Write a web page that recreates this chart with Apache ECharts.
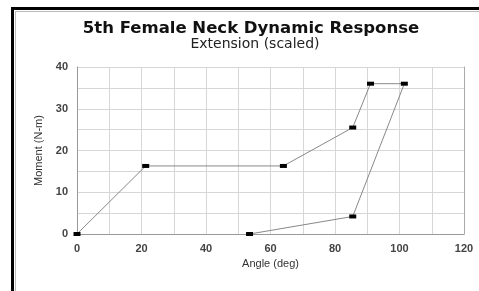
<!DOCTYPE html>
<html>
<head>
<meta charset="utf-8">
<script src="https://cdn.jsdelivr.net/npm/echarts@6/dist/echarts.min.js"></script>
<style>
html, body { margin: 0; padding: 0; background: #fff; }
#p1 { width: 479px; height: 291px; }
</style>
</head>
<body>
<div id="p1"></div>
<script>
// response corridor points, in drawing order
var angle = [0, 21.3, 64, 85.5, 91, 101.5, 85.5, 53.5];
var moment = [0, 16.3, 16.3, 25.5, 36, 36, 4.2, 0];

var pts = [];
for (var i = 0; i < angle.length; i++) {
    pts.push([angle[i], moment[i]]);
}

var labelFont = {
    fontFamily: 'Liberation Sans',
    fontSize: 11,
    fontWeight: 'bold',
    color: '#444'
};

var myChart1 = echarts.init(document.getElementById("p1"));
var option1 = {
    backgroundColor: '#fff',
    animation: false,
    title: [{
        text: '5th Female Neck Dynamic Response',
        left: 246,
        top: 15,
        textAlign: 'center',
        textStyle: {
            fontFamily: 'DejaVu Sans',
            fontSize: 16.5,
            fontWeight: 'bold',
            color: '#111'
        }
    }, {
        text: 'Extension (scaled)',
        left: 250,
        top: 32,
        textAlign: 'center',
        textStyle: {
            fontFamily: 'DejaVu Sans',
            fontSize: 14,
            fontWeight: 'normal',
            color: '#222'
        }
    }],
    grid: {
        left: 77,
        right: 15,
        top: 67,
        bottom: 57
    },
    xAxis: {
        type: 'value',
        min: 0,
        max: 120,
        interval: 20,
        name: 'Angle (deg)',
        nameLocation: 'middle',
        nameGap: 20,
        nameTextStyle: {
            fontFamily: 'Liberation Sans',
            fontSize: 11,
            color: '#333'
        },
        axisLine: { lineStyle: { color: '#999', width: 1 } },
        axisTick: { show: false },
        axisLabel: Object.assign({ margin: 9 }, labelFont),
        splitLine: { show: true, lineStyle: { color: '#d6d6d6', width: 1 } },
        minorTick: { show: false, splitNumber: 2 },
        minorSplitLine: { show: true, lineStyle: { color: '#d6d6d6', width: 1 } }
    },
    yAxis: [{
        type: 'value',
        min: 0,
        max: 40,
        interval: 10,
        name: 'Moment (N-m)',
        nameLocation: 'middle',
        nameGap: 24,
        nameTextStyle: {
            fontFamily: 'Liberation Sans',
            fontSize: 11,
            color: '#333'
        },
        axisLine: { show: true, lineStyle: { color: '#999', width: 1 } },
        axisTick: { show: false },
        axisLabel: Object.assign({ margin: 9 }, labelFont),
        splitLine: { show: true, lineStyle: { color: '#d6d6d6', width: 1 } },
        minorTick: { show: false, splitNumber: 2 },
        minorSplitLine: { show: true, lineStyle: { color: '#d6d6d6', width: 1 } }
    }, {
        // right frame edge of the plot
        type: 'value',
        position: 'right',
        min: 0,
        max: 40,
        interval: 10,
        axisLine: { show: true, lineStyle: { color: '#aaa', width: 1 } },
        axisTick: { show: false },
        axisLabel: { show: false },
        splitLine: { show: false }
    }],
    series: [{
        type: 'line',
        data: pts,
        symbol: 'rect',
        symbolSize: [7, 4],
        itemStyle: { color: '#000' },
        lineStyle: { color: '#888', width: 1 }
    }],
    graphic: [
        { type: 'rect', shape: { x: 11, y: 7, width: 3, height: 284 }, style: { fill: '#000' } },
        { type: 'rect', shape: { x: 11, y: 7, width: 468, height: 3 }, style: { fill: '#000' } },
        { type: 'line', shape: { x1: 15, y1: 11.5, x2: 479, y2: 11.5 }, style: { stroke: '#bbb', lineWidth: 1 } },
        { type: 'line', shape: { x1: 15.5, y1: 11, x2: 15.5, y2: 291 }, style: { stroke: '#bbb', lineWidth: 1 } }
    ]
};
myChart1.setOption(option1);
</script>
</body>
</html>
